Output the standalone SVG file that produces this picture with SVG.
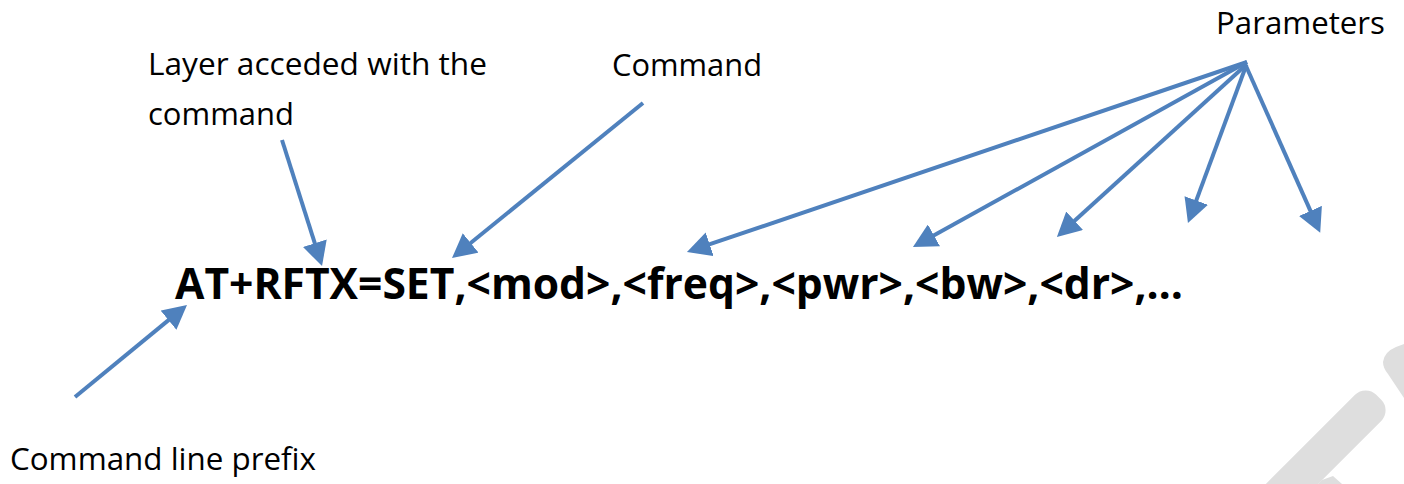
<svg xmlns="http://www.w3.org/2000/svg" width="1404" height="484" viewBox="0 0 1404 484">
<defs>
<marker id="ah" markerUnits="userSpaceOnUse" markerWidth="24" markerHeight="25" refX="6" refY="12.5" orient="auto" viewBox="0 0 24 25">
<path d="M0,0 L24,12.5 L0,25 Z" fill="#4F81BD"/>
</marker>
<style>
.lbl{font-family:"Open Sans","Liberation Sans",sans-serif;font-size:31px;fill:#000}
.cmd{font-family:"Open Sans","Liberation Sans",sans-serif;font-size:43px;font-weight:bold;fill:#000}
.arr{stroke:#4F81BD;stroke-width:4;fill:none;marker-end:url(#ah)}
.wm{fill:#dedede}
</style>
</defs>
<rect width="1404" height="484" fill="#fff"/>
<g id="watermark">
<g transform="translate(1366,410) rotate(135)"><rect class="wm" x="-18" y="-18.5" width="200" height="37" rx="15"/></g>
<polygon class="wm" points="1322,480 1333,476 1342,484 1318,484"/>
<path class="wm" d="M1404,344 L1396,347 Q1384,352 1383,362 Q1383,368 1388,374 L1404,398 Z"/>
</g>
<g id="connectors">
<line class="arr" x1="282" y1="140" x2="316.6" y2="248.9"/>
<line class="arr" x1="643" y1="103" x2="466.0" y2="246.7"/>
<line class="arr" x1="75" y1="397" x2="173.1" y2="316.4"/>
<line class="arr" x1="1247" y1="62" x2="704.0" y2="246.2"/>
<line class="arr" x1="1247" y1="62" x2="928.7" y2="238.3"/>
<line class="arr" x1="1247" y1="64" x2="1070.2" y2="224.8"/>
<line class="arr" x1="1246" y1="66" x2="1194.2" y2="206.1"/>
<line class="arr" x1="1246" y1="66" x2="1312.9" y2="216.4"/>
</g>
<g id="layer-label">
<text class="lbl" x="148" y="75" textLength="339" lengthAdjust="spacingAndGlyphs">Layer acceded with the</text>
<text class="lbl" x="148" y="125" textLength="146" lengthAdjust="spacingAndGlyphs">command</text>
</g>
<g id="command-label">
<text class="lbl" x="612" y="76" textLength="150" lengthAdjust="spacingAndGlyphs">Command</text>
</g>
<g id="parameters-label">
<text class="lbl" x="1216" y="34" textLength="169" lengthAdjust="spacingAndGlyphs">Parameters</text>
</g>
<g id="prefix-label">
<text class="lbl" x="10" y="470" textLength="306" lengthAdjust="spacingAndGlyphs">Command line prefix</text>
</g>
<g id="command-line">
<text class="cmd" x="175" y="299" textLength="1008" lengthAdjust="spacingAndGlyphs">AT+RFTX=SET,&lt;mod&gt;,&lt;freq&gt;,&lt;pwr&gt;,&lt;bw&gt;,&lt;dr&gt;,…</text>
</g>
</svg>
